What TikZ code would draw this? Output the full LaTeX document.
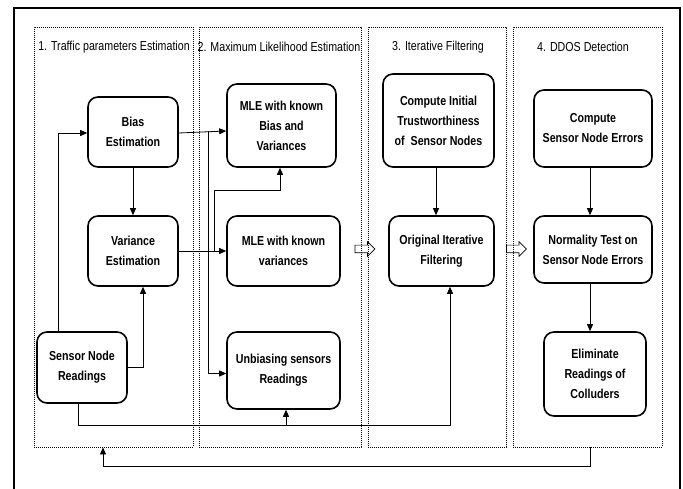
\documentclass[tikz,border=0pt]{standalone}
\usepackage{fontspec}
\setmainfont{Liberation Sans}[FakeStretch=0.82]
\usetikzlibrary{arrows.meta,shapes.arrows}
\tikzset{
  proc/.style={draw, line width=1.6pt, rounded corners=10pt, align=center,
    font=\fontsize{13}{20}\selectfont\bfseries, inner sep=2pt},
  panel/.style={draw, line width=0.9pt, dash pattern=on 0.9pt off 1.1pt, inner sep=0pt},
  ptitle/.style={font=\fontsize{13}{16}\selectfont},
  link/.style={line width=0.8pt},
  arr/.style={link, -{Triangle[length=7pt,width=6pt]}},
  hollow/.style={single arrow, draw, line width=0.7pt, minimum height=20pt,
    minimum width=14pt, single arrow head extend=3.5pt, inner sep=3.5pt}
}
\begin{document}
\begin{tikzpicture}[x=1pt,y=-1pt]
\useasboundingbox (0,0) rectangle (683,489);
% outer frame (open at the bottom)
\draw[line width=2pt] (14,495) -- (14,8) -- (680,8) -- (680,495);

% stage panels
\node[panel, minimum width=159pt, minimum height=420pt] (p1) at (113.5,237) {};
\node[panel, minimum width=162pt, minimum height=420pt] (p2) at (280,237) {};
\node[panel, minimum width=138pt, minimum height=420pt] (p3) at (437,237) {};
\node[panel, minimum width=149pt, minimum height=420pt] (p4) at (587.5,237) {};

\node[ptitle] (t1) at (114,47) {1. Traffic parameters Estimation};
\node[ptitle] (t2) at (279,47) {2. Maximum Likelihood Estimation};
\node[ptitle] (t3) at (438,47) {3. Iterative Filtering};
\node[ptitle] (t4) at (583,47) {4. DDOS Detection};

% process boxes
\node[proc, minimum width=90pt, minimum height=70pt] (bias) at (133,132) {Bias\\Estimation};
\node[proc, minimum width=90pt, minimum height=70pt] (var) at (133,251) {Variance\\Estimation};
\node[proc, minimum width=90pt, minimum height=71pt] (sens) at (82,367.5) {Sensor Node\\Readings};
\node[proc, minimum width=109pt, minimum height=83pt] (mle1) at (281.5,125.5) {MLE with known\\Bias and\\Variances};
\node[proc, minimum width=113pt, minimum height=70pt] (mle2) at (283.5,251) {MLE with known\\variances};
\node[proc, minimum width=113pt, minimum height=77pt] (unb) at (283.5,370.5) {Unbiasing sensors\\Readings};
\node[proc, minimum width=111pt, minimum height=93pt] (cit) at (438.5,120.5) {Compute Initial\\Trustworthiness\\of\ \ Sensor Nodes};
\node[proc, minimum width=105pt, minimum height=70pt] (oif) at (441.5,251) {Original Iterative\\Filtering};
\node[proc, minimum width=118pt, minimum height=77pt] (cse) at (593,128.5) {Compute\\Sensor Node Errors};
\node[proc, minimum width=118pt, minimum height=67pt] (nt) at (593,249.5) {Normality Test on\\Sensor Node Errors};
\node[proc, minimum width=102pt, minimum height=84pt] (elim) at (595,374) {Eliminate\\Readings of\\Colluders};

% hollow arrows between stages
\node[hollow] (h1) at (363,249) {};
\node[hollow] (h2) at (514.5,249) {};

% junction points
\coordinate (jb) at (208,131);
\coordinate (jv) at (214,190);
\coordinate (jr) at (78,425);
\coordinate (fb) at (590,466);

% stage 1
\draw[arr] (bias) -- (var);
\draw[arr] ([xshift=-24pt]sens.north) |- ([yshift=-1pt]bias.west);
\draw[arr] (sens.east) -| ([xshift=10pt]var.south);

% stage 1 -> stage 2
\draw[arr] ([yshift=-1pt]bias.east) -- (mle1.west |- jb);
\draw[arr] (jb) |- ([yshift=-3pt]unb.west);
\draw[arr] (var.east) -- (var.east -| mle2.west);
\draw[link] (var.east -| jv) -- (jv);
\draw[arr] (jv) -| ([xshift=-1.5pt]mle1.south);

% readings feed the unbiasing and the filtering
\draw[link] (sens.south -| jr) -- (jr);
\draw[arr] (jr) -| ([xshift=8.5pt]oif.south);
\draw[arr] ([xshift=2.5pt]unb.south |- jr) -- ([xshift=2.5pt]unb.south);

% stage 3
\draw[arr] ([xshift=-2.5pt]cit.south) -- ([xshift=-2.5pt]cit.south |- oif.north);

% stage 4
\draw[arr] ([xshift=-3pt]cse.south) -- ([xshift=-3pt]cse.south |- nt.north);
\draw[arr] ([xshift=-3pt]nt.south) -- ([xshift=-3pt]nt.south |- elim.north);

% feedback loop
\draw[arr] (p4.south -| fb) -- (fb) -| ([xshift=-10.5pt]p1.south);
\end{tikzpicture}
\end{document}
